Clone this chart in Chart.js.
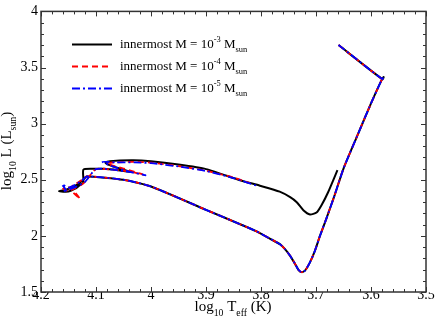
<!DOCTYPE html>
<html>
<head>
<meta charset="utf-8">
<script src="https://cdn.jsdelivr.net/npm/chart.js@4/dist/chart.umd.min.js"></script>
<style>
  html, body { margin: 0; padding: 0; background: #fff; }
  #wrap { width: 436px; height: 327px; }
</style>
</head>
<body>
<div id="wrap"><canvas id="grafico" width="436" height="327"></canvas></div>
<script>
// shared part of the tracks (top segment, Hayashi line, lower branch)
const trackT = [3.659, 3.579, 3.577, 3.581, 3.600, 3.626, 3.650, 3.667, 3.681, 3.693, 3.702, 3.711, 3.720, 3.726, 3.732, 3.738, 3.747, 3.756, 3.765, 3.784, 3.808, 3.838, 3.900, 4.000, 4.050, 4.117];
const trackL = [3.700, 3.395, 3.415, 3.385, 3.180, 2.880, 2.600, 2.350, 2.156, 1.997, 1.866, 1.764, 1.690, 1.677, 1.698, 1.750, 1.822, 1.880, 1.924, 1.976, 2.040, 2.104, 2.232, 2.440, 2.500, 2.530];

// innermost M = 1e-3 (black)
const loop3T = [4.123, 4.135, 4.152, 4.167, 4.150, 4.138, 4.130, 4.123, 4.123, 4.108, 4.085, 4.060, 4.035, 4.060, 4.078, 4.083, 4.075, 4.032, 4.000, 3.950, 3.900, 3.838, 3.802, 3.766, 3.747, 3.735, 3.723, 3.711, 3.699, 3.690, 3.678, 3.661];
const loop3L = [2.500, 2.455, 2.415, 2.397, 2.395, 2.420, 2.450, 2.475, 2.590, 2.598, 2.597, 2.585, 2.569, 2.605, 2.635, 2.652, 2.666, 2.673, 2.664, 2.635, 2.595, 2.496, 2.447, 2.394, 2.345, 2.300, 2.229, 2.191, 2.208, 2.273, 2.389, 2.586];

// innermost M = 1e-4 (red)
const loop4T = [4.125, 4.140, 4.147, 4.129, 4.147, 4.160, 4.150, 4.138, 4.125, 4.120, 4.100, 4.070, 4.040, 4.014, 4.050, 4.075, 4.080, 4.060, 4.030, 4.000, 3.950, 3.900, 3.850, 3.820];
const loop4L = [2.500, 2.455, 2.417, 2.330, 2.430, 2.420, 2.400, 2.425, 2.460, 2.480, 2.595, 2.590, 2.575, 2.545, 2.600, 2.635, 2.650, 2.655, 2.660, 2.652, 2.622, 2.580, 2.520, 2.470];

// innermost M = 1e-5 (blue)
const loop5T = [4.125, 4.140, 4.150, 4.162, 4.155, 4.160, 4.140, 4.125, 4.120, 4.100, 4.070, 4.040, 4.010, 4.045, 4.070, 4.088, 4.065, 4.030, 4.000, 3.950, 3.900, 3.850, 3.808];
const loop5L = [2.495, 2.450, 2.430, 2.460, 2.410, 2.395, 2.430, 2.465, 2.480, 2.595, 2.590, 2.570, 2.540, 2.580, 2.620, 2.660, 2.655, 2.655, 2.648, 2.618, 2.578, 2.515, 2.447];

const exponents = ['-3', '-4', '-5'];
const colors = ['#000000', '#ff0000', '#0000ff'];
const dashes = [[], [6, 4], [8, 3, 2, 3]];

const xTicks = [4.2, 4.1, 4.0, 3.9, 3.8, 3.7, 3.6, 3.5];
const yTicks = [1.5, 2.0, 2.5, 3.0, 3.5, 4.0];

function pontos(T, L) {
  return T.map((t, i) => ({ x: t, y: L[i] }));
}

const series = [
  pontos(trackT.concat(loop3T), trackL.concat(loop3L)),
  pontos(trackT.concat(loop4T), trackL.concat(loop4L)),
  pontos(trackT.concat(loop5T), trackL.concat(loop5L))
];

const serif = '"Liberation Serif", "DejaVu Serif", serif';

// draw text pieces with sub/superscripts; returns width
function textoRico(ctx, parts, x, y, size, draw) {
  let cx = x;
  parts.forEach(p => {
    const s = p.k === 0 ? size : size * 0.65;
    ctx.font = s + 'px ' + serif;
    const dy = p.k === 1 ? -size * 0.45 : (p.k === -1 ? size * 0.3 : 0);
    if (draw) ctx.fillText(p.t, cx, y + dy);
    cx += ctx.measureText(p.t).width;
  });
  return cx - x;
}

const molduraPlugin = {
  id: 'moldura',
  afterDraw(chart) {
    const ctx = chart.ctx;
    const a = chart.chartArea;
    const xs = chart.scales.x, ys = chart.scales.y;
    ctx.save();
    ctx.strokeStyle = '#333';
    ctx.lineWidth = 1.5;
    ctx.strokeRect(a.left, a.top, a.right - a.left, a.bottom - a.top);
    ctx.lineWidth = 1;
    ctx.beginPath();
    // x ticks (major every 0.1, minor every 0.02)
    for (let i = 0; i <= 35; i++) {
      const v = 3.5 + i * 0.02;
      const px = Math.round(xs.getPixelForValue(v)) + 0.5;
      const len = i % 5 === 0 ? 5 : 3;
      ctx.moveTo(px, a.bottom); ctx.lineTo(px, a.bottom - len);
      ctx.moveTo(px, a.top); ctx.lineTo(px, a.top + len);
    }
    for (let i = 0; i <= 25; i++) {
      const v = 1.5 + i * 0.1;
      const py = Math.round(ys.getPixelForValue(v)) + 0.5;
      const len = i % 5 === 0 ? 5 : 3;
      ctx.moveTo(a.left, py); ctx.lineTo(a.left + len, py);
      ctx.moveTo(a.right, py); ctx.lineTo(a.right - len, py);
    }
    ctx.stroke();

    // axis titles
    ctx.fillStyle = '#000';
    ctx.textBaseline = 'alphabetic';
    ctx.textAlign = 'left';
    const xt = [{t: 'log', k: 0}, {t: '10', k: -1}, {t: ' T', k: 0}, {t: 'eff', k: -1}, {t: ' (K)', k: 0}];
    const wx = textoRico(ctx, xt, 0, 0, 15, false);
    textoRico(ctx, xt, 233 - wx / 2, 311, 15, true);

    const yt = [{t: 'log', k: 0}, {t: '10', k: -1}, {t: ' L (L', k: 0}, {t: 'sun', k: -1}, {t: ')', k: 0}];
    const wy = textoRico(ctx, yt, 0, 0, 15, false);
    ctx.save();
    ctx.translate(11, 151);
    ctx.rotate(-Math.PI / 2);
    textoRico(ctx, yt, -wy / 2, 0, 15, true);
    ctx.restore();

    // legend
    const rows = [44, 66, 88];
    chart.data.datasets.forEach((ds, i) => {
      ctx.save();
      ctx.strokeStyle = colors[i];
      ctx.lineWidth = 2;
      ctx.setLineDash(dashes[i]);
      ctx.beginPath();
      ctx.moveTo(72, rows[i] + 0.5);
      ctx.lineTo(112, rows[i] + 0.5);
      ctx.stroke();
      ctx.restore();
      const parts = [{t: 'innermost M = 10', k: 0}, {t: exponents[i], k: 1}, {t: ' M', k: 0}, {t: 'sun', k: -1}];
      textoRico(ctx, parts, 120, rows[i] + 4, 13, true);
    });
    ctx.restore();
  }
};

new Chart(document.getElementById('grafico').getContext('2d'), {
  type: 'scatter',
  data: {
    datasets: series.map((pts, i) => ({
      label: 'innermost M = 10^' + exponents[i] + ' M_sun',
      data: pts,
      order: 3 - i,
      showLine: true,
      borderColor: colors[i],
      borderWidth: i === 0 ? 2 : 1.8,
      borderDash: dashes[i],
      pointRadius: 0,
      tension: 0.2,
      fill: false
    }))
  },
  options: {
    responsive: false,
    animation: false,
    layout: { padding: { top: 5, right: 10, left: 0, bottom: 0 } },
    plugins: { legend: { display: false }, tooltip: { enabled: false } },
    scales: {
      x: {
        type: 'linear', min: 3.5, max: 4.2, reverse: true,
        afterBuildTicks: s => { s.ticks = xTicks.map(v => ({ value: v })); },
        afterFit: s => { s.height = 35; },
        ticks: { color: '#000', padding: -5, maxRotation: 0, font: { family: serif, size: 14 },
                 callback: v => String(Math.round(v * 10) / 10) },
        grid: { display: false, drawTicks: false },
        border: { display: false }
      },
      y: {
        type: 'linear', min: 1.5, max: 4,
        afterBuildTicks: s => { s.ticks = yTicks.map(v => ({ value: v })); },
        afterFit: s => { s.width = 41; },
        ticks: { color: '#000', padding: 3, font: { family: serif, size: 14 },
                 callback: v => String(Math.round(v * 10) / 10) },
        grid: { display: false, drawTicks: false },
        border: { display: false }
      }
    }
  },
  plugins: [molduraPlugin]
});
</script>
</body>
</html>
